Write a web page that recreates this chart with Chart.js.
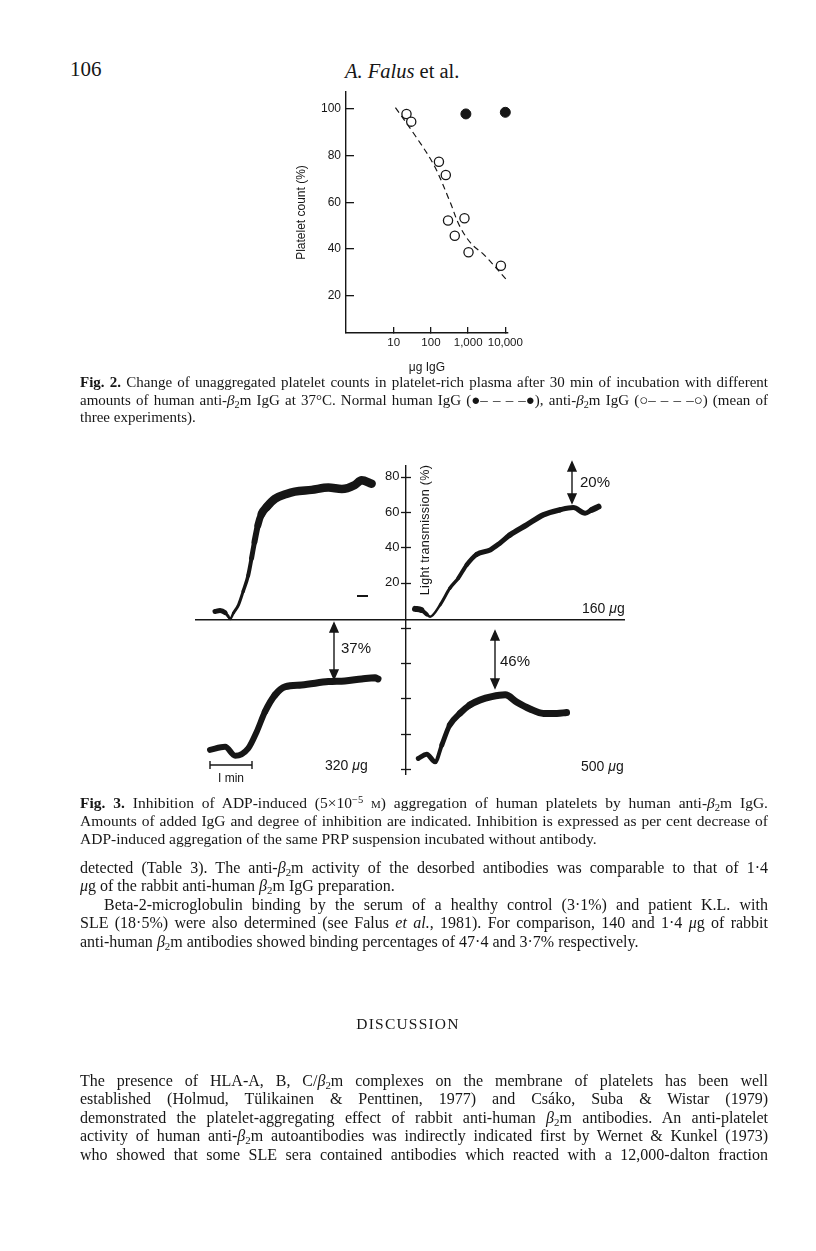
<!DOCTYPE html>
<html>
<head>
<meta charset="utf-8">
<script src="https://cdn.jsdelivr.net/npm/chart.js@4.4.0/dist/chart.umd.min.js"></script>
<style>
html,body{margin:0;padding:0;background:#fff;}
body{width:816px;height:1251px;position:relative;overflow:hidden;font-family:"Liberation Serif","Times New Roman",serif;color:#161616;}
.abs{position:absolute;white-space:nowrap;}
.ln{position:absolute;left:80px;width:688px;white-space:nowrap;}
.sans{font-family:"Liberation Sans",Arial,sans-serif;}
sub{font-size:0.68em;vertical-align:-0.25em;line-height:0;}
sup{font-size:0.68em;vertical-align:0.45em;line-height:0;}
</style>
</head>
<body>
<div class="abs" style="left:70px;top:57px;font-size:21px;">106</div>
<div class="abs" style="left:345px;top:60px;font-size:20.5px;"><i>A. Falus</i> et al.</div>

<div class="abs" style="left:290px;top:85px;width:245px;height:293px;"><canvas id="fig2"></canvas></div>

<div class="abs" style="left:195px;top:465px;width:430px;height:310px;"><canvas id="fig3"></canvas></div>

<!-- fig 3 annotations -->
<svg class="abs" style="left:0;top:0;" width="816" height="1251">
  <g stroke="#161616" stroke-width="1.4" fill="#161616">
    <line x1="572" y1="466" x2="572" y2="499"/>
    <path d="M568 471 L572 462 L576 471 Z"/><path d="M568 494 L572 503 L576 494 Z"/>
    <line x1="334" y1="627" x2="334" y2="675"/>
    <path d="M330 632 L334 623 L338 632 Z"/><path d="M330 670 L334 679 L338 670 Z"/>
    <line x1="495" y1="635" x2="495" y2="684"/>
    <path d="M491 640 L495 631 L499 640 Z"/><path d="M491 679 L495 688 L499 679 Z"/>
    <line x1="357" y1="596" x2="368" y2="596" stroke-width="2"/>
    <line x1="210" y1="765" x2="252" y2="765"/>
    <line x1="210" y1="761" x2="210" y2="769"/>
    <line x1="252" y1="761" x2="252" y2="769"/>
  </g>
</svg>
<div class="abs sans" style="left:580px;top:473px;font-size:15px;">20%</div>
<div class="abs sans" style="left:341px;top:639px;font-size:15px;">37%</div>
<div class="abs sans" style="left:500px;top:652px;font-size:15px;">46%</div>
<div class="abs sans" style="left:582px;top:600px;font-size:14px;">160 <i>μ</i>g</div>
<div class="abs sans" style="left:325px;top:757px;font-size:14px;">320 <i>μ</i>g</div>
<div class="abs sans" style="left:581px;top:758px;font-size:14px;">500 <i>μ</i>g</div>
<div class="abs sans" style="left:218px;top:771px;font-size:12px;">I min</div>
<div class="abs sans" style="left:425px;top:530px;font-size:12.5px;letter-spacing:0.3px;transform:translate(-50%,-50%) rotate(-90deg);">Light transmission (%)</div>

<div class="abs" style="left:0;width:816px;top:1015px;text-align:center;font-size:15.5px;letter-spacing:1.2px;">DISCUSSION</div>

<script>
// ---- Fig. 2 data ----
const doseAnti = [22, 29.5, 164, 251, 288, 797, 437, 1024, 7600];
const countAnti = [97.9, 94.6, 77.4, 71.7, 52.2, 53.2, 45.7, 38.6, 32.8];
const doseNormal = [870, 10000];
const countNormal = [97.9, 98.6];
const fitDose = [11.1, 40, 120, 325, 573, 1180, 2690, 12000];
const fitCount = [100.6, 88, 76, 60.3, 50.3, 42.5, 37.5, 26];
const doseTicks = [10, 100, 1000, 10000];
const doseTickLabels = ["10", "100", "1,000", "10,000"];
const countTicks = [20, 40, 60, 80, 100];

// ---- Fig. 3 traces: minutes from start, light transmission (%) ----
const ctrlTime = [0, 0.12, 0.24, 0.31, 0.36, 0.44, 0.56, 0.67, 0.79, 0.87, 0.94, 1.02, 1.11, 1.23, 1.43, 1.7, 1.9, 2.3, 2.7, 3.02, 3.33, 3.49, 3.73];
const ctrlTrans = [3.6, 4.2, 3.0, 1.0, -0.6, 2.8, 7.4, 15, 24, 33.8, 43, 52.4, 59, 62.8, 67.5, 70.2, 71.5, 72.5, 73.8, 73, 75.3, 78, 76];
const d160Time = [0, 0.15, 0.28, 0.36, 0.6, 0.83, 1.03, 1.23, 1.47, 1.79, 2.02, 2.26, 2.66, 3.06, 3.45, 3.77, 4.05, 4.21, 4.37];
const d160Trans = [5.1, 4.5, 2.0, 0.7, 7.4, 16.8, 22.5, 30, 36, 38.5, 42.3, 47, 52.7, 58.4, 61.2, 62.5, 59.3, 61.2, 63];
const d320Time = [0, 0.36, 0.6, 0.91, 1.11, 1.31, 1.55, 1.79, 2.18, 2.82, 3.21, 3.61, 3.93, 4.0];
const d320Trans = [10.8, 12.6, 7.5, 11.7, 21, 32.5, 42, 46.6, 47.6, 49.5, 49.9, 51, 51.7, 51];
const d500Time = [0, 0.2, 0.4, 0.56, 0.75, 0.99, 1.23, 1.47, 1.75, 2.07, 2.35, 2.66, 2.98, 3.3, 3.53];
const d500Trans = [6, 8.3, 4.1, 13.6, 25, 31.5, 36.3, 39.1, 41, 42, 37.8, 34, 31.5, 31.5, 32];
const transTicks = [20, 40, 60, 80];

const INK = "#161616";
const SANS = "'Liberation Sans', Arial, sans-serif";
const pts = (xs, ys) => xs.map((x, i) => ({ x, y: ys[i] }));
const noPad = (s) => { s.paddingLeft = 0; s.paddingRight = 0; s.paddingTop = 0; s.paddingBottom = 0; };

// fig 2
new Chart(document.getElementById("fig2"), {
  type: "scatter",
  data: { datasets: [
    { data: pts(fitDose, fitCount), showLine: true, tension: 0.35, borderColor: INK, borderWidth: 1.2, borderDash: [6, 4], pointRadius: 0, clip: false },
    { data: pts(doseAnti, countAnti), pointRadius: 4.6, pointBackgroundColor: "#fff", pointBorderColor: INK, pointBorderWidth: 1.3, clip: false },
    { data: pts(doseNormal, countNormal), pointRadius: 5, pointBackgroundColor: INK, pointBorderColor: INK, clip: false }
  ]},
  options: {
    responsive: true, maintainAspectRatio: false, animation: false,
    layout: { padding: { top: 7, right: 27, left: 0, bottom: 0 } },
    plugins: { legend: { display: false }, tooltip: { enabled: false } },
    scales: {
      x: {
        type: "logarithmic", min: 0.52, max: 11800,
        afterBuildTicks: (a) => { a.ticks = doseTicks.map(v => ({ value: v })); },
        afterFit: (s) => { s.height = 45; noPad(s); },
        grid: { drawOnChartArea: false, tickLength: -6, color: INK, lineWidth: 1.3 },
        border: { color: INK, width: 1.4 },
        ticks: { autoSkip: false, maxRotation: 0, padding: 9, color: INK, font: { family: SANS, size: 11.5 },
          callback: (v, i) => doseTickLabels[i] },
        title: { display: true, text: "μg IgG", color: INK, font: { family: SANS, size: 12 }, padding: { top: 0, bottom: 3 } }
      },
      y: {
        min: 4, max: 107.3,
        afterBuildTicks: (a) => { a.ticks = countTicks.map(v => ({ value: v })); },
        afterFit: (s) => { s.width = 56; noPad(s); },
        grid: { drawOnChartArea: false, tickLength: -8, color: INK, lineWidth: 1.3 },
        border: { color: INK, width: 1.4 },
        ticks: { padding: 13, color: INK, font: { family: SANS, size: 12 } },
        title: { display: true, text: "Platelet count (%)", color: INK, font: { family: SANS, size: 12 }, padding: { top: 4, bottom: 0 } }
      }
    }
  }
});

// fig 3: one scale for all four panels, y axis sits in the middle
const PXMIN = 42;            // px per minute
const XMAX = 430 / PXMIN;
const AXIS_X = 211 / PXMIN;
const TOP0 = 85.6;           // top row baseline in bottom-row units
const LINE_Y = 84.4;
const starts = { ctrl: [20 / PXMIN, TOP0], d160: [220 / PXMIN, TOP0], d320: [15 / PXMIN, 0], d500: [223.3 / PXMIN, 0] };

function trace(key, ts, vs, widths) {
  const [ox, oy] = starts[key];
  return {
    data: ts.map((t, i) => ({ x: ox + t, y: oy + vs[i] })),
    showLine: true, pointRadius: 0, borderColor: INK, borderWidth: 5, clip: false,
    cubicInterpolationMode: "monotone", borderCapStyle: "round", borderJoinStyle: "round",
    segment: { borderWidth: (c) => widths[Math.min(c.p0DataIndex, widths.length - 1)] }
  };
}

const crossTicks = {
  id: "crossTicks",
  afterDraw(chart) {
    const ys = chart.scales.y, x0 = chart.scales.x.getPixelForValue(AXIS_X), ctx = chart.ctx;
    ctx.save(); ctx.strokeStyle = INK; ctx.lineWidth = 1.3;
    ys.ticks.forEach(t => {
      const y = Math.round(ys.getPixelForValue(t.value)) + 0.5;
      ctx.beginPath(); ctx.moveTo(x0 - 5, y); ctx.lineTo(x0 + 5, y); ctx.stroke();
    });
    ctx.restore();
  }
};

new Chart(document.getElementById("fig3"), {
  type: "scatter",
  data: { datasets: [
    trace("ctrl", ctrlTime, ctrlTrans, [5, 5, 3, 2.5, 2.5, 3, 3, 3.5, 4, 5, 6, 7, 8, 8.5, 8.5, 8.5, 8.5, 8.5, 8.5, 8.5, 8.5, 8.5]),
    trace("d160", d160Time, d160Trans, [6, 4, 2.5, 2.5, 3, 3.5, 4, 4.5, 5, 5, 5, 5.5, 5.5, 5.5, 5, 5, 5, 6]),
    trace("d320", d320Time, d320Trans, [6, 6, 6, 6, 6, 6.5, 7, 7, 7, 7, 7, 7, 7]),
    trace("d500", d500Time, d500Trans, [5, 5, 4, 5, 6, 6.5, 7, 7, 7, 7, 7, 7, 7, 7])
  ]},
  options: {
    responsive: true, maintainAspectRatio: false, animation: false,
    layout: { padding: 0 },
    plugins: { legend: { display: false }, tooltip: { enabled: false } },
    scales: {
      x: {
        type: "linear", min: 0, max: XMAX, position: { y: LINE_Y },
        afterFit: noPad,
        grid: { display: false }, ticks: { display: false },
        border: { color: INK, width: 1.4 }
      },
      y: {
        type: "linear", min: -3.4, max: 172.2, position: { x: AXIS_X },
        afterBuildTicks: (a) => {
          a.ticks = [0, ...transTicks].map(v => ({ value: v }))
            .concat(transTicks.map(v => ({ value: TOP0 + v })));
        },
        afterFit: noPad,
        grid: { display: false },
        border: { color: INK, width: 1.4 },
        ticks: { color: INK, font: { family: SANS, size: 13 },
          callback: (v) => (v > TOP0 ? String(Math.round(v - TOP0)) + "\u2002" : "") }
      }
    }
  },
  plugins: [crossTicks]
});

// ---- text blocks, one div per printed line ----
const beta = '<i>β</i><sub>2</sub>m';
const cap2 = [
  { h: '<b>Fig. 2.</b> Change of unaggregated platelet counts in platelet-rich plasma after 30 min of incubation with different', j: 1 },
  { h: 'amounts of human anti-' + beta + ' IgG at 37°C. Normal human IgG (●– – – –●), anti-' + beta + ' IgG (○– – – –○) (mean of', j: 1 },
  { h: 'three experiments).', j: 0 }
];
const cap3 = [
  { h: '<b>Fig. 3.</b> Inhibition of ADP-induced (5×10<sup>−5</sup> <span style="font-variant:small-caps">m</span>) aggregation of human platelets by human anti-' + beta + ' IgG.', j: 1 },
  { h: 'Amounts of added IgG and degree of inhibition are indicated. Inhibition is expressed as per cent decrease of', j: 1 },
  { h: 'ADP-induced aggregation of the same PRP suspension incubated without antibody.', j: 0 }
];
const body1 = [
  { h: 'detected (Table 3). The anti-' + beta + ' activity of the desorbed antibodies was comparable to that of 1·4', j: 1 },
  { h: '<i>μ</i>g of the rabbit anti-human ' + beta + ' IgG preparation.', j: 0 },
  { h: 'Beta-2-microglobulin binding by the serum of a healthy control (3·1%) and patient K.L. with', j: 1, ind: 24 },
  { h: 'SLE (18·5%) were also determined (see Falus <i>et al.</i>, 1981). For comparison, 140 and 1·4 <i>μ</i>g of rabbit', j: 1 },
  { h: 'anti-human ' + beta + ' antibodies showed binding percentages of 47·4 and 3·7% respectively.', j: 0 }
];
const body2 = [
  { h: 'The presence of HLA-A, B, C/' + beta + ' complexes on the membrane of platelets has been well', j: 1 },
  { h: 'established (Holmud, Tülikainen &amp; Penttinen, 1977) and Csáko, Suba &amp; Wistar (1979)', j: 1 },
  { h: 'demonstrated the platelet-aggregating effect of rabbit anti-human ' + beta + ' antibodies. An anti-platelet', j: 1 },
  { h: 'activity of human anti-' + beta + ' autoantibodies was indirectly indicated first by Wernet &amp; Kunkel (1973)', j: 1 },
  { h: 'who showed that some SLE sera contained antibodies which reacted with a 12,000-dalton fraction', j: 1 }
];

function placeLines(lines, firstCenter, step, size) {
  lines.forEach((l, i) => {
    const d = document.createElement("div");
    d.className = "ln";
    d.style.fontSize = size + "px";
    d.style.lineHeight = step + "px";
    d.style.top = (firstCenter - step / 2 + i * step) + "px";
    const ind = l.ind || 0;
    d.style.paddingLeft = ind + "px";
    const s = document.createElement("span");
    s.innerHTML = l.h;
    d.appendChild(s);
    document.body.appendChild(d);
    const w = s.getBoundingClientRect().width, target = 688 - ind;
    if (w > target) {
      s.style.display = "inline-block";
      s.style.transformOrigin = "0 50%";
      s.style.transform = "scaleX(" + (target / w) + ")";
    } else if (l.j) {
      const n = (s.textContent.match(/ /g) || []).length;
      if (n) s.style.wordSpacing = ((target - w) / n) + "px";
    }
  });
}
placeLines(cap2, 383, 17.5, 15);
placeLines(cap3, 803, 18, 15.5);
placeLines(body1, 868, 18.5, 16);
placeLines(body2, 1081, 18.5, 16);
</script>
</body>
</html>
